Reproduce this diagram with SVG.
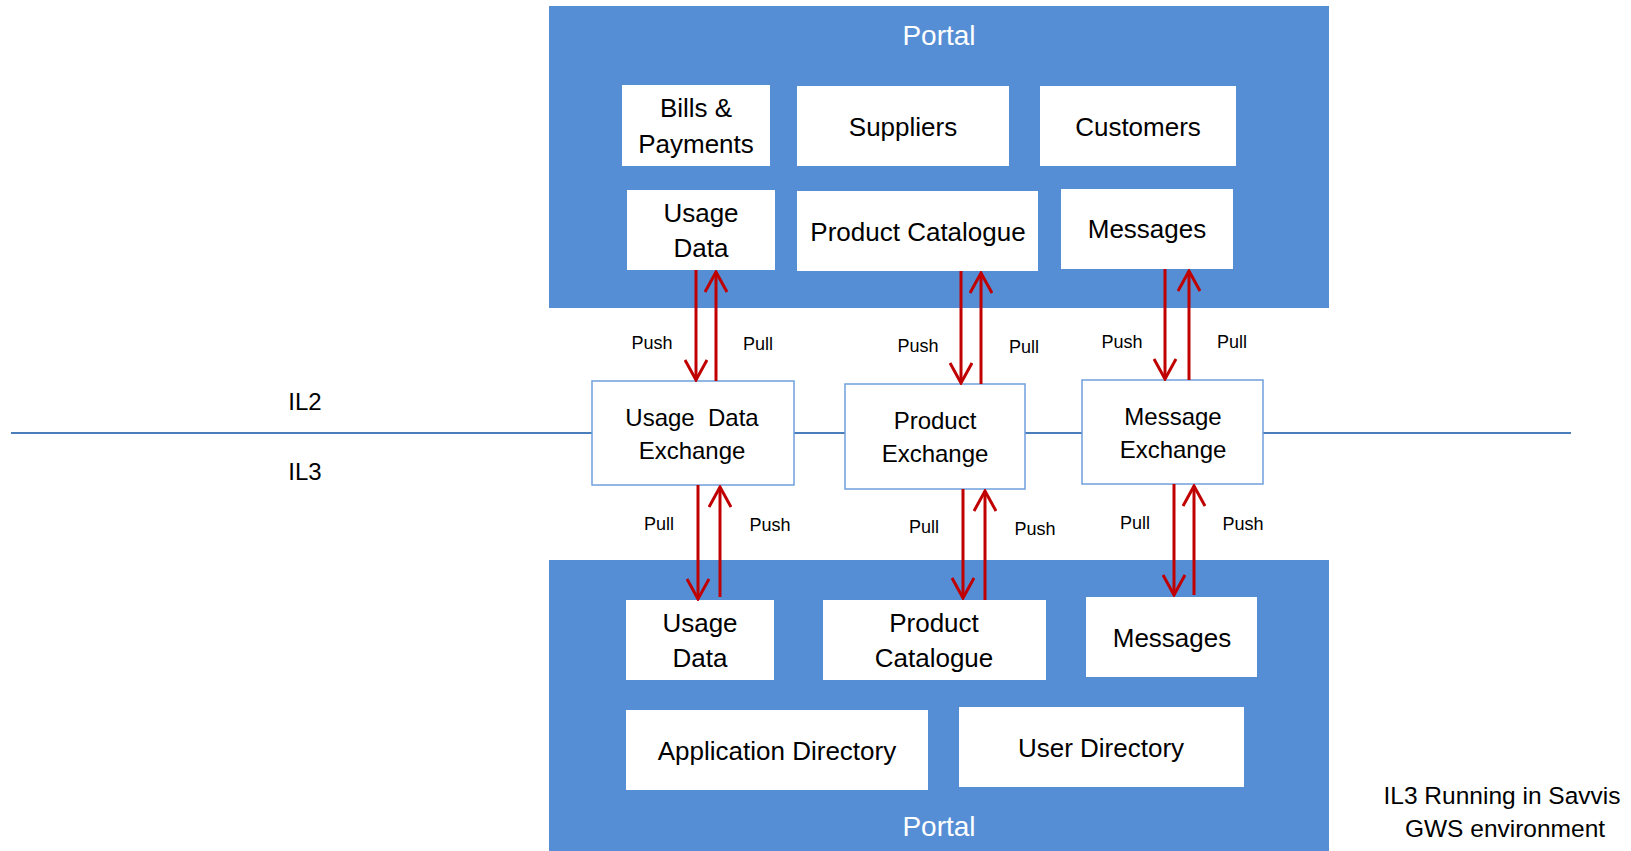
<svg xmlns="http://www.w3.org/2000/svg" width="1631" height="851" viewBox="0 0 1631 851">
<defs>
<style>
text{font-family:"Liberation Sans",Arial,sans-serif;fill:#000;text-anchor:middle}
.portal{fill:#558ED5}
.box{fill:#fff}
.xbox{fill:#fff;stroke:#6FA0DC;stroke-width:1.5}
.pt{fill:#fff;font-size:28px}
.t{font-size:26px}
.tx{font-size:24px}
.s{font-size:18px}
.il{font-size:24px}
.nt{font-size:24.5px}
.arr{stroke:#C00000;stroke-width:3;fill:none;marker-end:url(#ah)}
.lvl{stroke:#4A7EBB;stroke-width:2}
</style>
<marker id="ah" viewBox="0 0 24 24" refX="22" refY="12" markerWidth="24" markerHeight="24" markerUnits="userSpaceOnUse" orient="auto">
<path d="M2,1 L22,12 L2,23" fill="none" stroke="#C00000" stroke-width="3"/>
</marker>
</defs>
<rect width="1631" height="851" fill="#fff"/>
<line class="lvl" x1="11" y1="433" x2="1571" y2="433"/>
<text class="il" x="305" y="410">IL2</text>
<text class="il" x="305" y="480">IL3</text>

<g id="portal-top">
<rect class="portal" x="549" y="6" width="780" height="302"/>
<text class="pt" x="939" y="45">Portal</text>
</g>
<g id="bills"><rect class="box" x="622" y="85" width="148" height="81"/><text class="t" x="696" y="117">Bills &amp;</text><text class="t" x="696" y="153">Payments</text></g>
<g id="suppliers"><rect class="box" x="797" y="86" width="212" height="80"/><text class="t" x="903" y="136">Suppliers</text></g>
<g id="customers"><rect class="box" x="1040" y="86" width="196" height="80"/><text class="t" x="1138" y="136">Customers</text></g>
<g id="usage-top"><rect class="box" x="627" y="190" width="148" height="80"/><text class="t" x="701" y="222">Usage</text><text class="t" x="701" y="257">Data</text></g>
<g id="catalogue-top"><rect class="box" x="797" y="191" width="241" height="80"/><text class="t" x="918" y="241">Product Catalogue</text></g>
<g id="messages-top"><rect class="box" x="1061" y="189" width="172" height="80"/><text class="t" x="1147" y="238">Messages</text></g>

<g id="usage-exchange"><rect class="xbox" x="592" y="381" width="202" height="104"/><text class="tx" x="692" y="426" xml:space="preserve">Usage  Data</text><text class="tx" x="692" y="459">Exchange</text></g>
<g id="product-exchange"><rect class="xbox" x="845" y="384" width="180" height="105"/><text class="tx" x="935" y="429">Product</text><text class="tx" x="935" y="462">Exchange</text></g>
<g id="message-exchange"><rect class="xbox" x="1082" y="380" width="181" height="104"/><text class="tx" x="1173" y="425">Message</text><text class="tx" x="1173" y="458">Exchange</text></g>

<g id="portal-bottom">
<rect class="portal" x="549" y="560" width="780" height="291"/>
<text class="pt" x="939" y="836">Portal</text>
</g>
<g id="usage-bottom"><rect class="box" x="626" y="600" width="148" height="80"/><text class="t" x="700" y="632">Usage</text><text class="t" x="700" y="667">Data</text></g>
<g id="catalogue-bottom"><rect class="box" x="823" y="600" width="223" height="80"/><text class="t" x="934" y="632">Product</text><text class="t" x="934" y="667">Catalogue</text></g>
<g id="messages-bottom"><rect class="box" x="1086" y="597" width="171" height="80"/><text class="t" x="1172" y="647">Messages</text></g>
<g id="app-directory"><rect class="box" x="626" y="710" width="302" height="80"/><text class="t" x="777" y="760">Application Directory</text></g>
<g id="user-directory"><rect class="box" x="959" y="707" width="285" height="80"/><text class="t" x="1101" y="757">User Directory</text></g>

<g id="connectors">
<line class="arr" x1="696" y1="270" x2="696" y2="380"/>
<line class="arr" x1="716" y1="381" x2="716" y2="272"/>
<line class="arr" x1="961" y1="271" x2="961" y2="383"/>
<line class="arr" x1="981" y1="384" x2="981" y2="273"/>
<line class="arr" x1="1165" y1="269" x2="1165" y2="379"/>
<line class="arr" x1="1189" y1="380" x2="1189" y2="271"/>
<line class="arr" x1="698" y1="485" x2="698" y2="599"/>
<line class="arr" x1="720" y1="597" x2="720" y2="487"/>
<line class="arr" x1="963" y1="489" x2="963" y2="598"/>
<line class="arr" x1="985" y1="600" x2="985" y2="491"/>
<line class="arr" x1="1174" y1="484" x2="1174" y2="595"/>
<line class="arr" x1="1194" y1="595" x2="1194" y2="486"/>
</g>
<g id="labels">
<text class="s" x="652" y="349">Push</text>
<text class="s" x="758" y="350">Pull</text>
<text class="s" x="918" y="352">Push</text>
<text class="s" x="1024" y="353">Pull</text>
<text class="s" x="1122" y="348">Push</text>
<text class="s" x="1232" y="348">Pull</text>
<text class="s" x="659" y="530">Pull</text>
<text class="s" x="770" y="531">Push</text>
<text class="s" x="924" y="533">Pull</text>
<text class="s" x="1035" y="535">Push</text>
<text class="s" x="1135" y="529">Pull</text>
<text class="s" x="1243" y="530">Push</text>
</g>
<g id="note">
<text class="nt" x="1502" y="804">IL3 Running in Savvis</text>
<text class="nt" x="1505" y="837">GWS environment</text>
</g>
</svg>
